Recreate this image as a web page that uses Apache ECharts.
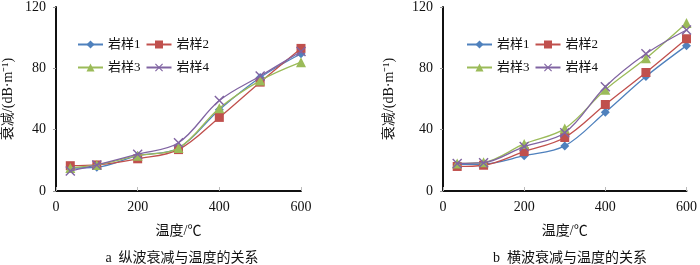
<!DOCTYPE html>
<html><head><meta charset="utf-8">
<script src="https://cdn.jsdelivr.net/npm/echarts@6/dist/echarts.min.js"></script>
<style>html,body{margin:0;padding:0;background:#fff}#c{width:700px;height:265px}</style>
</head><body><div id="c"></div>
<script>
const temps = [35, 100, 200, 300, 400, 500, 600];
const seriesNames = ['岩样1', '岩样2', '岩样3', '岩样4'];
// a: longitudinal wave attenuation
const a1 = [15, 15.5, 23, 28, 53, 74, 89.5];
const a2 = [16.5, 17, 21, 27, 48, 71, 93];
const a3 = [15, 17, 23, 28, 54, 72, 84];
const a4 = [13, 17, 24, 31.5, 59, 75, 91];
// b: transverse wave attenuation
const b1 = [17.4, 17.6, 23, 29.4, 51.4, 74.7, 94.8];
const b2 = [16, 16.8, 25.7, 34.9, 56.4, 77.3, 99.3];
const b3 = [18, 18.7, 30.7, 40.7, 66, 86.5, 109.6];
const b4 = [18, 18.5, 29, 38, 68, 89.5, 105];
const xTicks = [0, 200, 400, 600];
const yTicks = [0, 40, 80, 120];
const captions = ['a  纵波衰减与温度的关系', 'b  横波衰减与温度的关系'];
const xName = '温度/℃';
const yName = '衰减/(dB·m⁻¹)';

const colors = ['#4F81BD', '#C0504D', '#9BBB59', '#8064A2'];
const xPath = 'path://M0,1 L1,0 L5,4 L9,0 L10,1 L6,5 L10,9 L9,10 L5,6 L1,10 L0,9 L4,5 Z';
const symbols = ['diamond', 'rect', 'triangle', xPath];
const symSizes = [9, 9, 10, 10];
const FONT = '"Liberation Serif", "Noto Sans CJK SC", serif';

const chart = echarts.init(document.getElementById('c'), null, {renderer: 'canvas'});
const grids = [
  {left: 54, top: 7, width: 247, height: 184},
  {left: 443, top: 7, width: 246, height: 184}
];
function xAxis(i) {
  return {
    type: 'value', gridIndex: i, min: xTicks[0], max: xTicks[xTicks.length - 1], interval: 200,
    name: xName, nameLocation: 'middle', nameGap: 33,
    nameTextStyle: {fontFamily: FONT, fontSize: 14, color: '#111'},
    axisLine: {lineStyle: {color: '#111', width: 2}},
    axisTick: {inside: true, length: 4, lineStyle: {color: '#bbb'}},
    axisLabel: {fontFamily: FONT, fontSize: 14, color: '#111', margin: 9},
    splitLine: {show: false}
  };
}
function yAxis(i, gap) {
  return {
    type: 'value', gridIndex: i, min: yTicks[0], max: yTicks[yTicks.length - 1], interval: 40,
    name: yName, nameLocation: 'middle', nameGap: gap, nameRotate: 90,
    nameTextStyle: {fontFamily: FONT, fontSize: 14, color: '#111'},
    axisLine: {show: true, lineStyle: {color: '#111', width: 2}},
    axisTick: {show: true, length: 3, lineStyle: {color: '#999'}},
    axisLabel: {fontFamily: FONT, fontSize: 14, color: '#111', margin: 10},
    splitLine: {show: false}
  };
}
const dataA = [a1, a2, a3, a4];
const dataB = [b1, b2, b3, b4];
const series = [];
[dataA, dataB].forEach((set, gi) => {
  set.forEach((vals, k) => {
    series.push({
      name: seriesNames[k], type: 'line', xAxisIndex: gi, yAxisIndex: gi,
      data: temps.map((t, j) => [t, vals[j]]),
      smooth: 0.35, symbol: symbols[k], symbolSize: symSizes[k],
      lineStyle: {color: colors[k], width: 1.3},
      itemStyle: {color: colors[k]},
      z: 2 + k
    });
  });
});
function legend(left, top, names) {
  return {
    left: left, top: top, orient: 'horizontal', data: names, itemWidth: 25, itemHeight: 10,
    itemGap: 5, selectedMode: false,
    textStyle: {fontFamily: FONT, fontSize: 13, color: '#111'}
  };
}
chart.setOption({
  animation: false,
  grid: grids,
  xAxis: [xAxis(0), xAxis(1)],
  yAxis: [yAxis(0, 41), yAxis(1, 47)],
  legend: [
    legend(72, 33, [seriesNames[0], seriesNames[1]]),
    legend(72, 56, [seriesNames[2], seriesNames[3]]),
    legend(461, 33, [seriesNames[0], seriesNames[1]]),
    legend(461, 56, [seriesNames[2], seriesNames[3]])
  ],
  title: [
    {text: captions[0], left: 177, top: 246, textAlign: 'center',
     textStyle: {fontFamily: FONT, fontSize: 14, fontWeight: 'normal', color: '#111'}},
    {text: captions[1], left: 565, top: 246, textAlign: 'center',
     textStyle: {fontFamily: FONT, fontSize: 14, fontWeight: 'normal', color: '#111'}}
  ],
  series: series
});
</script></body></html>
